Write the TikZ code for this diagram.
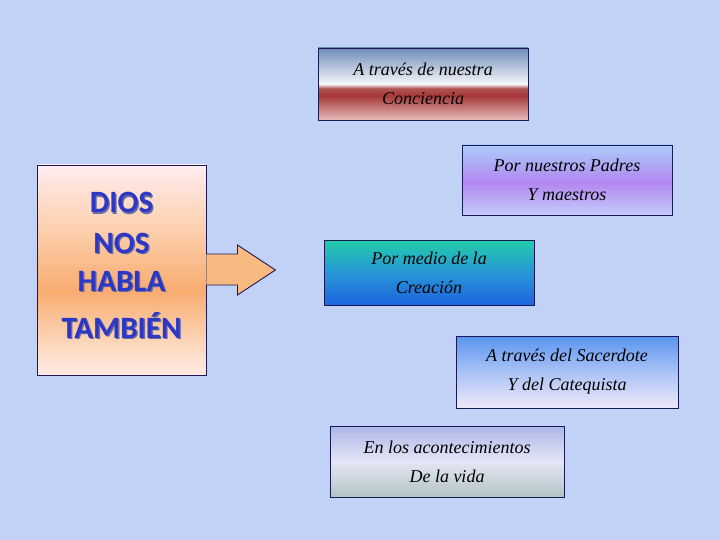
\documentclass[tikz,border=0pt]{standalone}
\usepackage{fontspec}
\setmainfont{Liberation Serif}
\newfontfamily\boldsans{Carlito}
\usetikzlibrary{calc}

\definecolor{bg}{RGB}{194,210,246}
\definecolor{edge}{RGB}{25,25,85}
\definecolor{dtext}{RGB}{45,55,198}
\definecolor{shadowc}{RGB}{105,110,160}
\definecolor{arrowfill}{RGB}{248,186,128}
% left box
\definecolor{lA}{RGB}{255,236,240}
\definecolor{lB}{RGB}{252,208,175}
\definecolor{lC}{RGB}{248,172,112}
\definecolor{lD}{RGB}{252,215,188}
\definecolor{lE}{RGB}{255,234,228}
% box 1
\definecolor{aA}{RGB}{110,140,185}
\definecolor{aB}{RGB}{246,246,250}
\definecolor{aC}{RGB}{178,85,85}
\definecolor{aD}{RGB}{165,55,55}
\definecolor{aE}{RGB}{232,188,188}
% box 2
\definecolor{bA}{RGB}{172,205,250}
\definecolor{bB}{RGB}{178,135,240}
\definecolor{bC}{RGB}{196,205,250}
% box 3
\definecolor{cA}{RGB}{35,205,170}
\definecolor{cB}{RGB}{38,150,215}
\definecolor{cC}{RGB}{30,100,222}
% box 4
\definecolor{dA}{RGB}{88,148,240}
\definecolor{dB}{RGB}{170,195,245}
\definecolor{dC}{RGB}{238,232,250}
% box 5
\definecolor{eA}{RGB}{172,182,232}
\definecolor{eB}{RGB}{228,230,246}
\definecolor{eC}{RGB}{178,196,196}

\pgfdeclareverticalshading{shLeft}{100bp}{color(0bp)=(lE); color(25bp)=(lE); color(32.5bp)=(lD); color(45bp)=(lC); color(60bp)=(lB); color(75bp)=(lA); color(100bp)=(lA)}
\pgfdeclareverticalshading{shOne}{100bp}{color(0bp)=(aE); color(25bp)=(aE); color(42bp)=(aD); color(47bp)=(aC); color(50bp)=(aB); color(75bp)=(aA); color(100bp)=(aA)}
\pgfdeclareverticalshading{shTwo}{100bp}{color(0bp)=(bC); color(25bp)=(bC); color(48bp)=(bB); color(75bp)=(bA); color(100bp)=(bA)}
\pgfdeclareverticalshading{shThree}{100bp}{color(0bp)=(cC); color(25bp)=(cC); color(50bp)=(cB); color(75bp)=(cA); color(100bp)=(cA)}
\pgfdeclareverticalshading{shFour}{100bp}{color(0bp)=(dC); color(25bp)=(dC); color(50bp)=(dB); color(75bp)=(dA); color(100bp)=(dA)}
\pgfdeclareverticalshading{shFive}{100bp}{color(0bp)=(eC); color(25bp)=(eC); color(50bp)=(eB); color(75bp)=(eA); color(100bp)=(eA)}

\tikzset{
  box/.style={draw=edge, line width=0.9pt, rectangle, inner sep=0pt,
    align=center, font=\fontsize{18}{29}\selectfont\itshape, text=black},
  bigword/.style={anchor=base, font=\boldsans\bfseries\fontsize{31}{31}\selectfont, text=dtext},
  bigshadow/.style={anchor=base, font=\boldsans\bfseries\fontsize{31}{31}\selectfont, text=shadowc},
  arrowshape/.style={fill=arrowfill},
  arrowline/.style={draw=edge, line width=0.9pt, line join=miter},
}

\begin{document}
\begin{tikzpicture}[x=1pt,y=-1pt]
\useasboundingbox (0,0) rectangle (720,540);
\fill[bg] (0,0) rectangle (720,540);

% left box
\node[box, shading=shLeft, minimum width=169pt, minimum height=210pt] (L) at (121.5,270) {};

% arrow from the box
\coordinate (a1) at ($(L.east)+(0,-16)$);
\coordinate (a2) at ($(L.east)+(31,-16)$);
\coordinate (a3) at ($(L.east)+(31,-25)$);
\coordinate (tip) at ($(L.east)+(69,0)$);
\coordinate (a5) at ($(L.east)+(31,25)$);
\coordinate (a6) at ($(L.east)+(31,15)$);
\coordinate (a7) at ($(L.east)+(0,15)$);
\fill[arrowshape] (a1) -- (a2) -- (a3) -- (tip) -- (a5) -- (a6) -- (a7) -- cycle;
\draw[arrowline] (a1) -- (a2) -- (a3) -- (tip) -- (a5) -- (a6) -- (a7);

% left box words
\foreach \w/\yy/\nm in {DIOS/213/w1, NOS/253/w2, HABLA/291/w3, TAMBIÉN/338/w4}{
  \node[bigshadow] (\nm s) at (122.8,\yy+1.3) {\w};
  \node[bigword] (\nm) at (121.5,\yy) {\w};
}

% right boxes
\node[box, shading=shOne, minimum width=210pt, minimum height=72pt] (B1) at (423,84)
  {A través de nuestra\\Conciencia};
\node[box, shading=shTwo, minimum width=210pt, minimum height=70pt] (B2) at (567,180)
  {Por nuestros Padres\\Y maestros};
\node[box, shading=shThree, minimum width=210pt, minimum height=65pt] (B3) at (429,272.5)
  {Por medio de la\\Creación};
\node[box, shading=shFour, minimum width=222pt, minimum height=72pt] (B4) at (567,372)
  {A través del Sacerdote\\Y del Catequista};
\node[box, shading=shFive, minimum width=234pt, minimum height=71pt] (B5) at (447,461.5)
  {En los acontecimientos\\De la vida};
\end{tikzpicture}
\end{document}
